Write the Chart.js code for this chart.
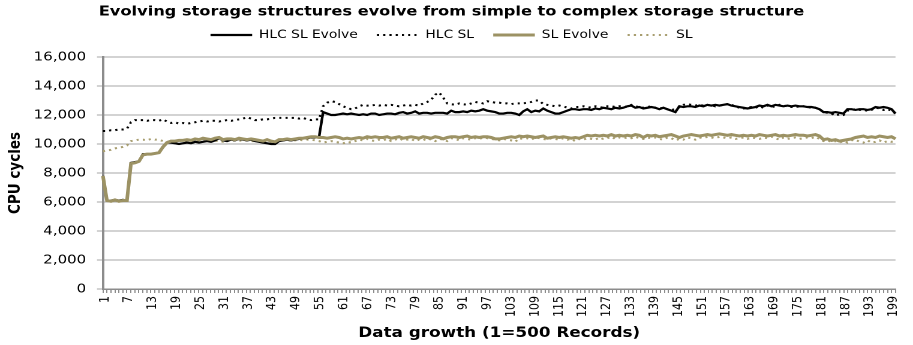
<!DOCTYPE html>
<html>
<head>
<meta charset="utf-8">
<script src="https://cdn.jsdelivr.net/npm/chart.js@4/dist/chart.umd.min.js"></script>
<style>
html,body{margin:0;padding:0;background:#fff;overflow:hidden;}
#wrap{position:absolute;left:0;top:0;width:761px;height:345px;transform:scaleX(1.19974);transform-origin:0 0;}
</style>
</head>
<body>
<div id="wrap"><canvas id="c"></canvas></div>
<script>
// ---- data ----
const chartTitle = "Evolving storage structures evolve from simple to complex storage structure";
const xTitle = "Data growth (1=500 Records)";
const yTitle = "CPU cycles";
const seriesNames = ["HLC SL Evolve", "HLC SL", "SL Evolve", "SL"];
const categories = [];
for (let i = 1; i <= 199; i++) categories.push(String(i));
const yTicks = [0, 2000, 4000, 6000, 8000, 10000, 12000, 14000, 16000];

const hlcSlEvolve = [
 7800, 6100, 6100, 6150, 6100, 6150, 6100, 8700, 8750, 8800,
 9300, 9300, 9300, 9350, 9400, 9800, 10100, 10100, 10050, 10000,
 10050, 10100, 10050, 10150, 10100, 10150, 10200, 10150, 10250, 10400,
 10250, 10200, 10300, 10250, 10350, 10300, 10250, 10300, 10200, 10150,
 10100, 10050, 10000, 10000, 10200, 10250, 10300, 10250, 10300, 10350,
 10400, 10400, 10450, 10450, 10500, 12200, 12100, 12000, 12000, 12050,
 12100, 12050, 12100, 12050, 12000, 12050, 12000, 12100, 12100, 12000,
 12050, 12100, 12100, 12050, 12150, 12200, 12100, 12150, 12250, 12100,
 12150, 12150, 12100, 12150, 12150, 12150, 12100, 12300, 12200, 12200,
 12250, 12200, 12300, 12250, 12300, 12400, 12300, 12250, 12200, 12100,
 12100, 12150, 12150, 12100, 12000, 12250, 12400, 12200, 12300, 12250,
 12450, 12300, 12200, 12100, 12100, 12200, 12300, 12400, 12400, 12350,
 12400, 12400, 12350, 12450, 12400, 12500, 12450, 12400, 12500, 12450,
 12500, 12600, 12650, 12500, 12550, 12450, 12500, 12550, 12500, 12400,
 12500, 12400, 12300, 12200, 12600, 12550, 12600, 12600, 12550, 12650,
 12600, 12700, 12650, 12700, 12650, 12700, 12750, 12650, 12600, 12550,
 12500, 12450, 12500, 12550, 12650, 12600, 12700, 12600, 12700, 12650,
 12600, 12650, 12600, 12650, 12600, 12600, 12550, 12550, 12500, 12400,
 12200, 12200, 12150, 12200, 12150, 12100, 12400, 12400, 12350, 12400,
 12400, 12350, 12400, 12550, 12500, 12550, 12500, 12400, 12100
];
const hlcSl = [
 10900, 10900, 10950, 10950, 11000, 11000, 11050, 11500, 11650, 11650,
 11650, 11600, 11650, 11650, 11600, 11700, 11550, 11450, 11500, 11400,
 11450, 11400, 11450, 11500, 11550, 11600, 11550, 11600, 11600, 11550,
 11600, 11650, 11600, 11650, 11700, 11750, 11850, 11750, 11650, 11650,
 11700, 11700, 11750, 11800, 11800, 11800, 11800, 11800, 11800, 11750,
 11800, 11700, 11650, 11700, 11700, 12600, 12850, 12950, 12900, 12750,
 12600, 12500, 12400, 12450, 12600, 12700, 12650, 12650, 12700, 12650,
 12700, 12650, 12700, 12650, 12600, 12650, 12700, 12650, 12700, 12650,
 12800, 12900, 13050, 13400, 13550, 13200, 12800, 12750, 12700, 12800,
 12750, 12700, 12800, 12900, 12850, 12800, 12950, 12900, 12850, 12850,
 12800, 12800, 12750, 12800, 12800, 12800, 12850, 12900, 13000, 13000,
 12750, 12700, 12650, 12600, 12650, 12600, 12500, 12450, 12550, 12550,
 12600, 12550, 12500, 12600, 12550, 12500, 12600, 12600, 12550, 12600,
 12600, 12550, 12700, 12600, 12550, 12500, 12550, 12600, 12500, 12450,
 12500, 12400, 12350, 12400, 12550, 12700, 12750, 12700, 12650, 12700,
 12650, 12700, 12650, 12600, 12650, 12700, 12750, 12700, 12600, 12500,
 12450, 12500, 12550, 12500, 12600, 12500, 12650, 12550, 12600, 12700,
 12650, 12600, 12550, 12600, 12550, 12600, 12550, 12500, 12500, 12400,
 12200, 12150, 12100, 11950, 12050, 12000, 12300, 12350, 12400, 12350,
 12350, 12300, 12350, 12500, 12450, 12350, 12400, 12300, 12100
];
const slEvolve = [
 7800, 6100, 6050, 6150, 6050, 6100, 6100, 8650, 8700, 8800,
 9250, 9300, 9300, 9350, 9400, 9800, 10100, 10200, 10200, 10250,
 10250, 10300, 10250, 10350, 10300, 10400, 10350, 10300, 10400, 10450,
 10300, 10350, 10350, 10300, 10400, 10350, 10300, 10350, 10300, 10250,
 10200, 10300, 10200, 10150, 10300, 10300, 10350, 10300, 10350, 10400,
 10400, 10450, 10500, 10500, 10450, 10450, 10400, 10450, 10500, 10450,
 10350, 10400, 10350, 10400, 10450, 10400, 10500, 10450, 10500, 10450,
 10450, 10500, 10400, 10450, 10500, 10400, 10450, 10500, 10450, 10400,
 10500, 10450, 10400, 10500, 10450, 10350, 10450, 10500, 10500, 10450,
 10500, 10550, 10450, 10500, 10450, 10500, 10500, 10450, 10350, 10350,
 10400, 10450, 10500, 10450, 10550, 10500, 10550, 10500, 10450, 10500,
 10550, 10400, 10450, 10500, 10450, 10500, 10450, 10400, 10450, 10400,
 10500, 10600, 10550, 10600, 10550, 10600, 10550, 10650, 10550, 10600,
 10550, 10600, 10550, 10650, 10600, 10450, 10600, 10550, 10600, 10500,
 10550, 10600, 10650, 10550, 10450, 10550, 10600, 10650, 10600, 10550,
 10600, 10650, 10600, 10650, 10700, 10650, 10600, 10650, 10600, 10550,
 10600, 10550, 10600, 10550, 10650, 10600, 10550, 10600, 10650, 10550,
 10600, 10550, 10600, 10650, 10600, 10600, 10550, 10600, 10650, 10550,
 10300, 10350, 10250, 10300, 10200, 10250, 10300, 10350, 10450, 10500,
 10550, 10450, 10500, 10450, 10550, 10500, 10450, 10500, 10350
];
const sl = [
 9500, 9550, 9600, 9700, 9750, 9800, 9900, 10200, 10250, 10300,
 10300, 10250, 10350, 10300, 10300, 10200, 10150, 10150, 10200, 10250,
 10150, 10200, 10250, 10200, 10250, 10200, 10200, 10250, 10200, 10250,
 10150, 10250, 10200, 10250, 10250, 10200, 10250, 10200, 10200, 10200,
 10150, 10200, 10150, 10150, 10200, 10250, 10200, 10300, 10250, 10300,
 10250, 10300, 10300, 10250, 10200, 10100, 10150, 10200, 10150, 10100,
 10050, 10150, 10100, 10200, 10300, 10250, 10350, 10250, 10200, 10300,
 10250, 10350, 10200, 10300, 10400, 10250, 10300, 10350, 10200, 10300,
 10250, 10400, 10300, 10200, 10350, 10300, 10200, 10400, 10350, 10250,
 10400, 10350, 10300, 10400, 10350, 10450, 10400, 10350, 10300, 10250,
 10350, 10300, 10250, 10150, 10400, 10350, 10400, 10300, 10450, 10400,
 10350, 10300, 10400, 10350, 10300, 10400, 10300, 10350, 10200, 10350,
 10300, 10400, 10350, 10300, 10450, 10350, 10400, 10500, 10350, 10450,
 10400, 10450, 10400, 10500, 10400, 10350, 10450, 10400, 10450, 10350,
 10300, 10450, 10400, 10250, 10350, 10300, 10450, 10400, 10300, 10450,
 10400, 10500, 10450, 10400, 10500, 10450, 10400, 10450, 10350, 10400,
 10450, 10350, 10450, 10400, 10350, 10450, 10400, 10500, 10400, 10300,
 10450, 10350, 10400, 10450, 10350, 10400, 10450, 10400, 10500, 10350,
 10200, 10250, 10150, 10200, 10100, 10200, 10100, 10250, 10300, 10150,
 10100, 10250, 10100, 10150, 10250, 10100, 10200, 10150, 10200
];

// ---- chart ----
Chart.defaults.font.family = "'DejaVu Sans', Verdana, sans-serif";
Chart.defaults.color = '#000';

const black = '#000000';
const olive = '#9C9264';
const oliveDot = '#A89E70';
const dots = [1.8, 3.4];

new Chart(document.getElementById('c'), {
  type: 'line',
  data: {
    labels: categories,
    datasets: [
      { label: seriesNames[0], data: hlcSlEvolve, borderColor: black, backgroundColor: black,
        borderWidth: 2.2, pointRadius: 0, tension: 0, order: 1 },
      { label: seriesNames[1], data: hlcSl, borderColor: black, backgroundColor: black,
        borderWidth: 2, borderDash: dots, pointRadius: 0, tension: 0, order: 2 },
      { label: seriesNames[2], data: slEvolve, borderColor: olive, backgroundColor: olive,
        borderWidth: 3, pointRadius: 0, tension: 0, order: 0 },
      { label: seriesNames[3], data: sl, borderColor: oliveDot, backgroundColor: oliveDot,
        borderWidth: 2, borderDash: dots, pointRadius: 0, tension: 0, order: 3 }
    ]
  },
  options: {
    responsive: true,
    maintainAspectRatio: false,
    animation: false,
    devicePixelRatio: 2,
    layout: { padding: { left: 0, right: 8.3, top: 0, bottom: 0 } },
    plugins: {
      tooltip: { enabled: false },
      title: {
        display: true, text: chartTitle,
        font: { size: 13.5, weight: 'bold' },
        padding: { top: 4, bottom: -6.95 }
      },
      legend: {
        display: true, position: 'top',
        labels: {
          usePointStyle: false, boxWidth: 34.7, boxHeight: 0,
          padding: 16, font: { size: 11.5 },
          sort: (a, b) => a.datasetIndex - b.datasetIndex
        }
      }
    },
    scales: {
      xTop: {
        type: 'category', position: 'top', display: true,
        grid: { display: false, drawTicks: false }, border: { display: false },
        ticks: { display: false },
        afterFit: (s) => { s.height = 6.25; }
      },
      x: {
        type: 'category', position: 'bottom', offset: true,
        grid: { display: true, offset: true, drawOnChartArea: false, drawTicks: true, tickLength: 4, color: '#8C8C8C' },
        border: { display: true, color: '#8C8C8C', width: 1.5 },
        ticks: {
          autoSkip: false, minRotation: 90, maxRotation: 90, padding: 3,
          font: { size: 11 },
          callback: function(v, i) { return (i % 6 === 0) ? this.getLabelForValue(v) : ''; }
        },
        title: { display: true, text: xTitle, font: { size: 14, weight: 'bold' }, padding: { top: 2, bottom: 3 } },
        afterFit: (s) => { s.height = 56; }
      },
      y: {
        min: yTicks[0], max: yTicks[yTicks.length - 1],
        afterBuildTicks: (s) => { s.ticks = yTicks.map(v => ({ value: v })); },
        grid: { color: '#A6A6A6', lineWidth: 1, drawTicks: true, tickLength: 5 },
        border: { display: true, color: '#8C8C8C', width: 2 },
        ticks: { padding: 9, font: { size: 12.5 } },
        title: { display: true, text: yTitle, font: { size: 13.5, weight: 'bold' }, padding: { top: 4.8, bottom: 0 } },
        afterFit: (s) => { s.width = 85.8; }
      }
    }
  }
});
</script>
</body>
</html>
